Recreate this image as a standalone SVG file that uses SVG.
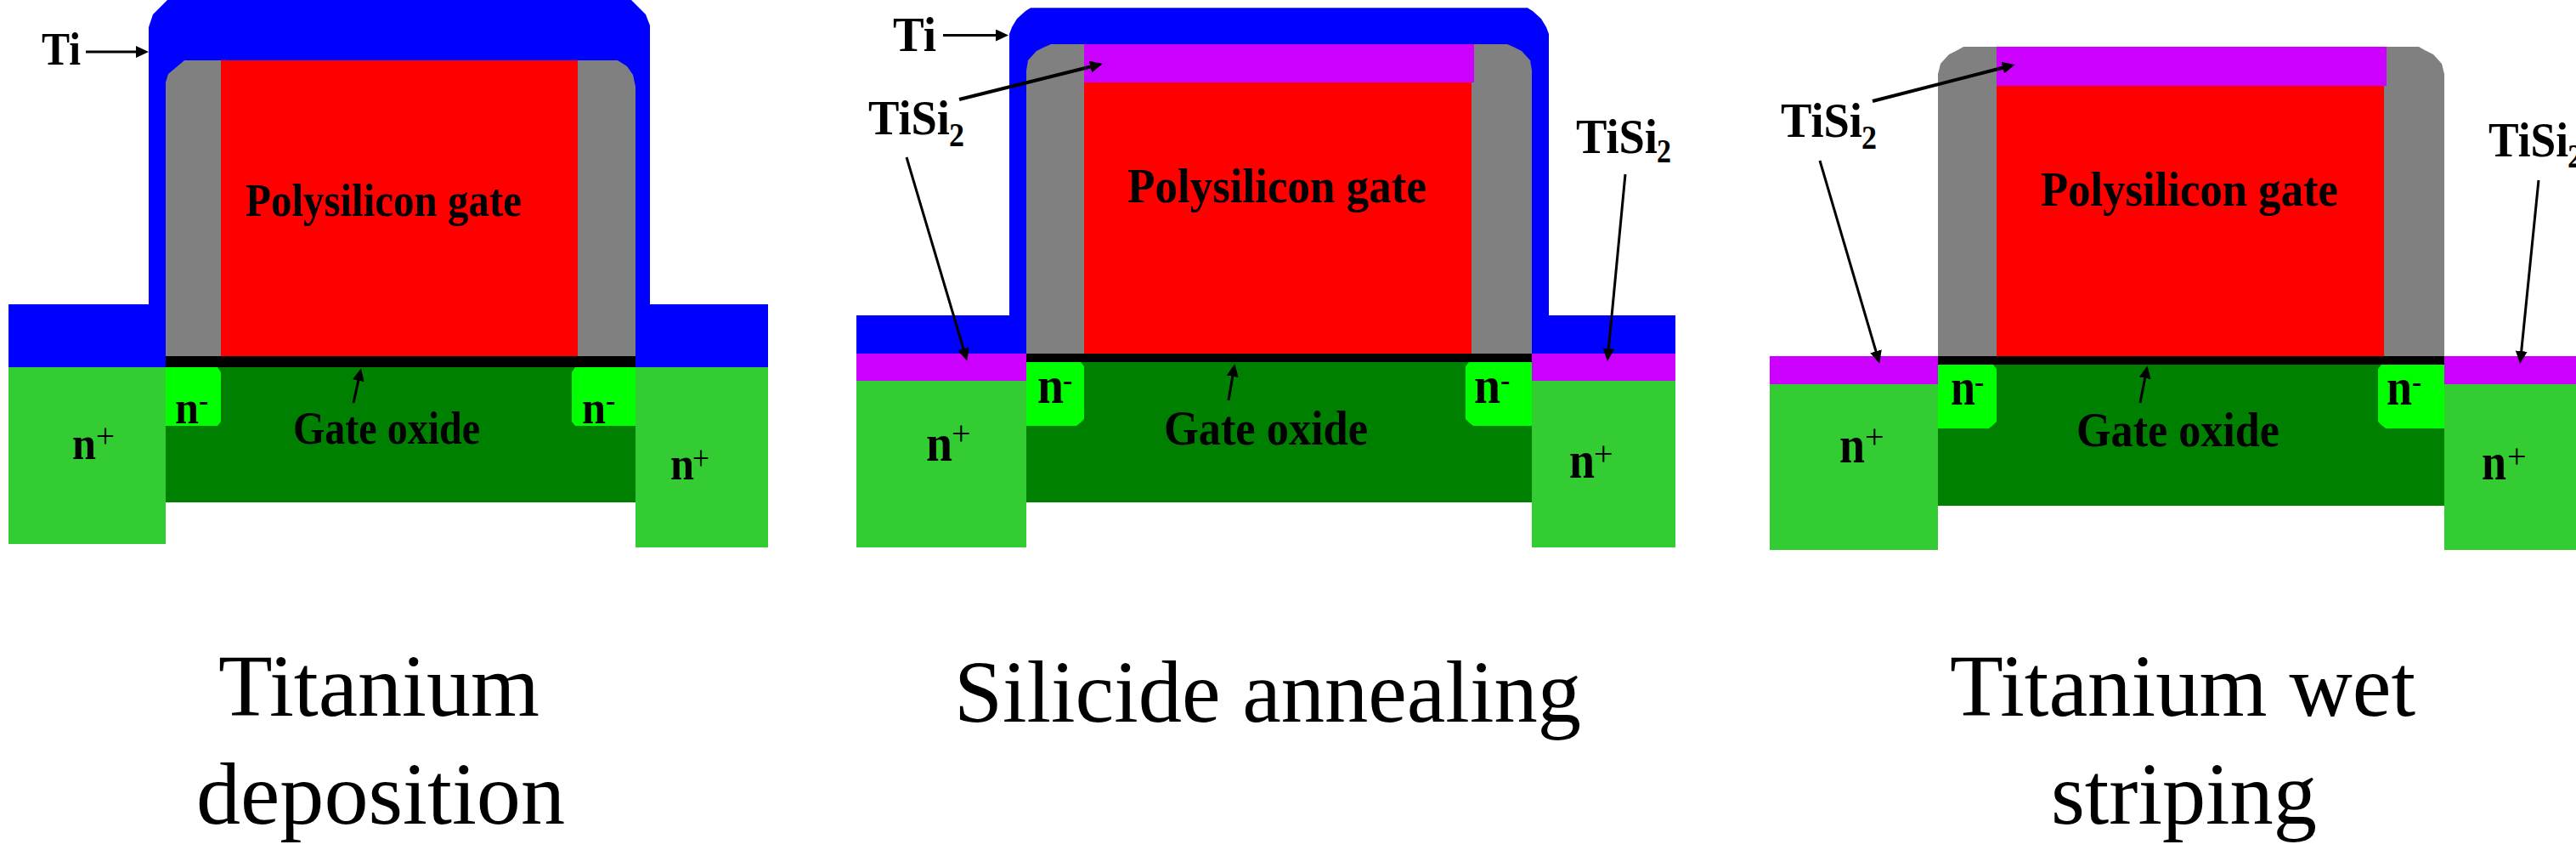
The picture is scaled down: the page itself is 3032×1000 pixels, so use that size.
<svg xmlns="http://www.w3.org/2000/svg" width="3032" height="1000" viewBox="0 0 3032 1000">
<style>
.ti{fill:#0000ff}.poly{fill:#ff0000}.sp{fill:#808080}.sil{fill:#cc00ff}.ox{fill:#000}.ch{fill:#008000}.np{fill:#33cc33}.nm{fill:#00ff00}
text{font-family:"Liberation Serif","Times New Roman",serif;fill:#000}
.l{font-weight:bold;font-size:58px}.l1{font-weight:bold;font-size:55px}.n{font-weight:bold;font-size:61px}.s{font-weight:bold;font-size:34px}.d{font-weight:bold;font-size:40px}.p{font-size:40px}.c{font-size:104px}
.a{stroke:#000;stroke-width:3;fill:none;marker-end:url(#ah)}.b{stroke-width:4}
</style>
<defs><marker id="ah" markerUnits="userSpaceOnUse" markerWidth="15" markerHeight="14" refX="7" refY="7" orient="auto"><polygon points="0,0 15,7 0,14" fill="#000"/></marker></defs>
<rect width="3032" height="1000" fill="#fff"/>
<g id="panel-titanium-deposition">
<path class="ti" d="M10 358H175V32L180 17L197 0H743L760 17L765 30V358H904V432H10Z"/>
<path class="sp" d="M195 419V97L198 87L210 77L217 71H727L738 78L745 88L748 102V419Z"/>
<rect class="poly" x="260" y="71" width="420" height="348"/>
<rect class="ox" x="195" y="419" width="553" height="13"/>
<rect class="ch" x="195" y="432" width="553" height="159"/>
<rect class="np" x="10" y="432" width="185" height="208"/>
<rect class="np" x="748" y="432" width="156" height="212"/>
<polygon class="nm" points="195,432 256,432 260,438 260,496 256,501 195,501"/>
<polygon class="nm" points="748,432 677,432 673,438 673,496 677,501 748,501"/>
<text class="l1" x="49" y="76" textLength="46" lengthAdjust="spacingAndGlyphs">Ti</text>
<text class="l1" x="289" y="254" textLength="325" lengthAdjust="spacingAndGlyphs">Polysilicon gate</text>
<text class="l1" x="345" y="522" textLength="220" lengthAdjust="spacingAndGlyphs">Gate oxide</text>
<text class="l1" x="206" y="498" textLength="28" lengthAdjust="spacingAndGlyphs">n</text><text class="s" x="234" y="483">-</text>
<text class="l1" x="685" y="498" textLength="28" lengthAdjust="spacingAndGlyphs">n</text><text class="s" x="713" y="483">-</text>
<text class="l1" x="85" y="540" textLength="28" lengthAdjust="spacingAndGlyphs">n</text><text class="p" x="113" y="526" textLength="22" lengthAdjust="spacingAndGlyphs">+</text>
<text class="l1" x="789" y="564" textLength="28" lengthAdjust="spacingAndGlyphs">n</text><text class="p" x="815" y="552" textLength="20" lengthAdjust="spacingAndGlyphs">+</text>
<text class="c" x="257" y="842" textLength="378" lengthAdjust="spacingAndGlyphs">Titanium</text>
<text class="c" x="231" y="969" textLength="434" lengthAdjust="spacingAndGlyphs">deposition</text>
</g>
<g id="panel-silicide-annealing">
<path class="ti" d="M1008 371H1188V40L1191 32L1197 22L1207 13L1213 9.3H1798L1804 13L1814 22L1820 32L1823 40V371H1972V416H1008Z"/>
<path class="sp" d="M1208 416V83L1210 71L1220 60L1230 55L1237 52H1774L1781 55L1791 60L1801 71L1803 83V416Z"/>
<rect class="poly" x="1276" y="52" width="456" height="364"/>
<rect class="sil" x="1276" y="52" width="459" height="45"/>
<rect class="ox" x="1208" y="416" width="595" height="10"/>
<rect class="ch" x="1208" y="426" width="595" height="165"/>
<rect class="sil" x="1008" y="416" width="200" height="32"/>
<rect class="sil" x="1803" y="416" width="169" height="32"/>
<rect class="np" x="1008" y="448" width="200" height="196"/>
<rect class="np" x="1803" y="448" width="169" height="196"/>
<polygon class="nm" points="1208,426 1272,426 1276,431 1276,493 1272,497 1267,501 1208,501"/>
<polygon class="nm" points="1803,426 1729,426 1725,431 1725,493 1729,497 1734,501 1803,501"/>
<text class="l" x="1051" y="60" textLength="51" lengthAdjust="spacingAndGlyphs">Ti</text>
<text class="l" x="1022" y="158" textLength="96" lengthAdjust="spacingAndGlyphs">TiSi</text><text class="d" x="1117" y="172" textLength="18" lengthAdjust="spacingAndGlyphs">2</text>
<text class="l" x="1855" y="180" textLength="96" lengthAdjust="spacingAndGlyphs">TiSi</text><text class="d" x="1950" y="191" textLength="17" lengthAdjust="spacingAndGlyphs">2</text>
<text class="l" x="1327" y="238" textLength="352" lengthAdjust="spacingAndGlyphs">Polysilicon gate</text>
<text class="l" x="1370" y="523" textLength="240" lengthAdjust="spacingAndGlyphs">Gate oxide</text>
<text class="n" x="1221" y="474" textLength="31" lengthAdjust="spacingAndGlyphs">n</text><text class="s" x="1251" y="459">-</text>
<text class="n" x="1735" y="474" textLength="31" lengthAdjust="spacingAndGlyphs">n</text><text class="s" x="1766" y="459">-</text>
<text class="n" x="1090" y="542" textLength="31" lengthAdjust="spacingAndGlyphs">n</text><text class="p" x="1120" y="523">+</text>
<text class="n" x="1847" y="562" textLength="30" lengthAdjust="spacingAndGlyphs">n</text><text class="p" x="1876" y="547">+</text>
<text class="c" x="1123" y="849" textLength="738" lengthAdjust="spacingAndGlyphs">Silicide annealing</text>
</g>
<g id="panel-titanium-wet-striping">
<path class="sp" d="M2281 419V87L2284 75L2294 64L2304 59L2311 55H2847L2854 59L2864 64L2874 75L2877 87V419Z"/>
<rect class="poly" x="2350" y="55" width="456" height="364"/>
<rect class="sil" x="2350" y="55" width="459" height="46"/>
<rect class="ox" x="2281" y="419" width="596" height="10"/>
<rect class="ch" x="2281" y="429" width="596" height="166"/>
<rect class="sil" x="2083" y="419" width="198" height="33"/>
<rect class="sil" x="2877" y="419" width="155" height="33"/>
<rect class="np" x="2083" y="452" width="198" height="195"/>
<rect class="np" x="2877" y="452" width="155" height="195"/>
<polygon class="nm" points="2281,429 2346,429 2350,434 2350,496 2346,500 2341,504 2281,504"/>
<polygon class="nm" points="2877,429 2803,429 2799,434 2799,496 2803,500 2808,504 2877,504"/>
<text class="l" x="2096" y="161" textLength="96" lengthAdjust="spacingAndGlyphs">TiSi</text><text class="d" x="2191" y="175" textLength="18" lengthAdjust="spacingAndGlyphs">2</text>
<text class="l" x="2929" y="184" textLength="94" lengthAdjust="spacingAndGlyphs">TiSi</text><text class="d" x="3022" y="197" textLength="18" lengthAdjust="spacingAndGlyphs">2</text>
<text class="l" x="2402" y="242" textLength="350" lengthAdjust="spacingAndGlyphs">Polysilicon gate</text>
<text class="l" x="2444" y="525" textLength="239" lengthAdjust="spacingAndGlyphs">Gate oxide</text>
<text class="n" x="2296" y="476" textLength="29" lengthAdjust="spacingAndGlyphs">n</text><text class="s" x="2324" y="461">-</text>
<text class="n" x="2809" y="476" textLength="30" lengthAdjust="spacingAndGlyphs">n</text><text class="s" x="2839" y="461">-</text>
<text class="n" x="2165" y="544" textLength="30" lengthAdjust="spacingAndGlyphs">n</text><text class="p" x="2195" y="527">+</text>
<text class="n" x="2921" y="564" textLength="29" lengthAdjust="spacingAndGlyphs">n</text><text class="p" x="2951" y="550">+</text>
<text class="c" x="2295" y="842" textLength="548" lengthAdjust="spacingAndGlyphs">Titanium wet</text>
<text class="c" x="2414" y="969" textLength="313" lengthAdjust="spacingAndGlyphs">striping</text>
</g>
<g id="connectors">
<line class="a" x1="101" y1="61" x2="167" y2="61"/>
<line class="a" x1="416" y1="474" x2="423.3" y2="441"/>
<line class="a" x1="1110" y1="41.5" x2="1179" y2="41.5"/>
<line class="a b" x1="1129" y1="117" x2="1290.2" y2="76.9"/>
<line class="a" x1="1067" y1="185" x2="1136" y2="417"/>
<line class="a" x1="1913" y1="205" x2="1892.7" y2="417"/>
<line class="a" x1="1446" y1="471" x2="1452" y2="436"/>
<line class="a b" x1="2204" y1="119" x2="2364" y2="78"/>
<line class="a" x1="2142" y1="189" x2="2210" y2="420"/>
<line class="a" x1="2988" y1="212" x2="2967" y2="420"/>
<line class="a" x1="2519" y1="474" x2="2526" y2="438"/>
</g>
</svg>
